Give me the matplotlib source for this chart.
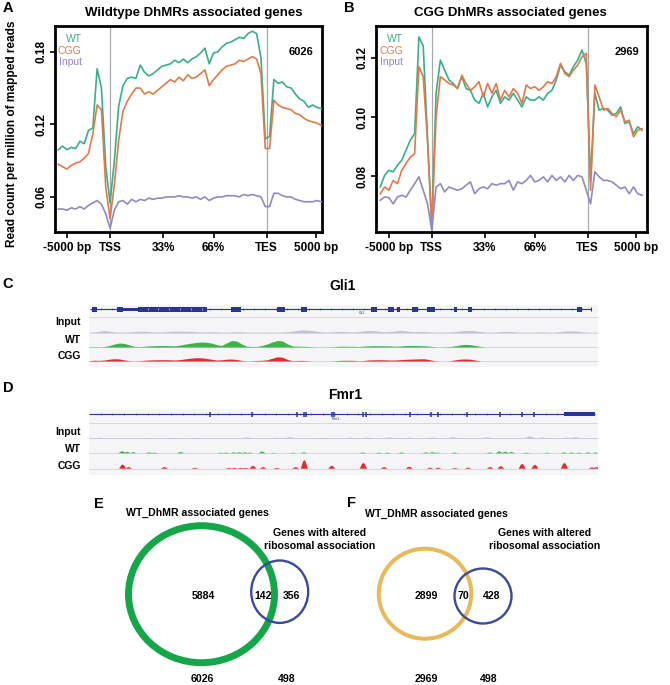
import numpy as np
import matplotlib
matplotlib.use('Agg')
import matplotlib.pyplot as plt
from matplotlib.patches import Ellipse, Rectangle

plt.rcParams['font.family'] = ['Liberation Sans', 'DejaVu Sans']

# ---------------- data ----------------
tick_labels = ['-5000 bp', 'TSS', '33%', '66%', 'TES', '5000 bp']

a_wt = [0.099, 0.102, 0.099, 0.101, 0.100, 0.106, 0.104, 0.115, 0.117, 0.166,
        0.150, 0.085, 0.055, 0.090, 0.135, 0.152, 0.158, 0.159, 0.158, 0.169,
        0.163, 0.160, 0.162, 0.165, 0.168, 0.169, 0.170, 0.173, 0.171, 0.174,
        0.171, 0.174, 0.176, 0.179, 0.183, 0.170, 0.179, 0.180, 0.184, 0.187,
        0.188, 0.190, 0.192, 0.191, 0.195, 0.197, 0.195, 0.175, 0.108, 0.110,
        0.157, 0.154, 0.155, 0.151, 0.150, 0.145, 0.141, 0.139, 0.134, 0.136,
        0.134, 0.133]
a_cgg = [0.087, 0.085, 0.083, 0.086, 0.088, 0.089, 0.092, 0.096, 0.112, 0.136,
         0.132, 0.068, 0.042, 0.070, 0.107, 0.131, 0.139, 0.145, 0.150, 0.150,
         0.145, 0.147, 0.145, 0.148, 0.151, 0.154, 0.157, 0.155, 0.159, 0.156,
         0.161, 0.158, 0.159, 0.162, 0.165, 0.152, 0.157, 0.161, 0.165, 0.168,
         0.169, 0.170, 0.173, 0.172, 0.174, 0.176, 0.174, 0.162, 0.100, 0.100,
         0.140, 0.136, 0.134, 0.133, 0.132, 0.129, 0.128, 0.125, 0.123, 0.122,
         0.121, 0.119]
a_input = [0.050, 0.050, 0.049, 0.051, 0.050, 0.052, 0.050, 0.053, 0.055, 0.057,
           0.054, 0.046, 0.034, 0.049, 0.056, 0.057, 0.054, 0.058, 0.056, 0.058,
           0.057, 0.059, 0.058, 0.059, 0.059, 0.060, 0.060, 0.060, 0.061, 0.060,
           0.060, 0.059, 0.060, 0.058, 0.060, 0.057, 0.059, 0.060, 0.060, 0.061,
           0.061, 0.061, 0.060, 0.062, 0.061, 0.062, 0.061, 0.060, 0.052, 0.052,
           0.063, 0.063, 0.061, 0.060, 0.060, 0.058, 0.057, 0.056, 0.056, 0.056,
           0.057, 0.056]

b_wt = [0.0764, 0.0803, 0.0820, 0.0815, 0.0837, 0.0854, 0.0888, 0.0922, 0.0944, 0.1270,
        0.1240, 0.0930, 0.0630, 0.1080, 0.1192, 0.1158, 0.1125, 0.1113, 0.1096, 0.1136,
        0.1096, 0.1090, 0.1057, 0.1046, 0.1080, 0.1034, 0.1068, 0.1090, 0.1046, 0.1068,
        0.1057, 0.1080, 0.1057, 0.1034, 0.1068, 0.1057, 0.1057, 0.1068, 0.1057, 0.1080,
        0.1090, 0.1125, 0.1175, 0.1153, 0.1141, 0.1170, 0.1192, 0.1226, 0.1180, 0.0786,
        0.1080, 0.1023, 0.1029, 0.1023, 0.1006, 0.1012, 0.1034, 0.0978, 0.0984, 0.0944,
        0.0967, 0.0955]
b_cgg = [0.0741, 0.0764, 0.0753, 0.0786, 0.0775, 0.0820, 0.0843, 0.0865, 0.0876, 0.1170,
         0.1136, 0.0922, 0.0625, 0.1000, 0.1136, 0.1125, 0.1113, 0.1108, 0.1096, 0.1141,
         0.1113, 0.1090, 0.1102, 0.1119, 0.1068, 0.1113, 0.1080, 0.1113, 0.1057, 0.1090,
         0.1068, 0.1096, 0.1080, 0.1046, 0.1108, 0.1096, 0.1102, 0.1090, 0.1102, 0.1119,
         0.1113, 0.1136, 0.1181, 0.1147, 0.1136, 0.1158, 0.1175, 0.1203, 0.1215, 0.0753,
         0.1108, 0.1068, 0.1023, 0.1029, 0.1012, 0.1001, 0.1023, 0.0984, 0.0989, 0.0933,
         0.0955, 0.0961]
b_input = [0.0719, 0.0730, 0.0728, 0.0707, 0.0730, 0.0736, 0.0730, 0.0753, 0.0775, 0.0798,
           0.0753, 0.0707, 0.0618, 0.0764, 0.0775, 0.0747, 0.0764, 0.0758, 0.0753, 0.0758,
           0.0770, 0.0781, 0.0741, 0.0758, 0.0764, 0.0758, 0.0775, 0.0770, 0.0775, 0.0775,
           0.0786, 0.0753, 0.0781, 0.0775, 0.0786, 0.0803, 0.0781, 0.0786, 0.0798, 0.0781,
           0.0803, 0.0786, 0.0798, 0.0781, 0.0803, 0.0786, 0.0803, 0.0798, 0.0753, 0.0707,
           0.0815, 0.0798, 0.0786, 0.0786, 0.0781, 0.0770, 0.0758, 0.0764, 0.0741, 0.0764,
           0.0741, 0.0736]

# Gli1 gene track (positions in % of the displayed region)
gli1_exon_start = [0.5, 5.5, 9.6, 27.9, 36.9, 41.7, 55.4, 58.7, 60.5, 63.5, 66.4, 71.7, 74.5, 95.9]
gli1_exon_end = [1.5, 6.7, 23.2, 29.9, 38.5, 42.8, 56.6, 59.9, 61.1, 64.6, 68.0, 72.3, 75.2, 96.9]
gli1_utr = [6.7, 9.6]
gli1_span = [0.2, 98.6]
gli1_input = [0.3, 0.5, 1.2, 2.0, 1.5, 0.6, 0.4, 0.4, 0.6, 1.0,
              1.3, 1.2, 0.8, 0.5, 0.5, 0.8, 1.2, 1.4, 1.3, 1.2,
              1.3, 0.9, 0.5, 0.6, 0.8, 0.6, 0.4, 0.4, 0.6, 0.8,
              0.6, 0.4, 0.3, 0.3, 0.4, 0.5, 0.4, 0.3, 0.5, 0.8,
              1.4, 2.2, 2.6, 2.4, 1.8, 1.0, 0.6, 0.5, 0.8, 1.0,
              1.0, 0.8, 0.6, 1.0, 1.6, 2.0, 1.8, 1.2, 0.8, 1.0,
              1.6, 2.0, 1.8, 1.2, 0.8, 1.0, 1.0, 0.7, 0.4, 0.4,
              0.5, 0.6, 1.0, 1.5, 2.0, 2.0, 1.6, 1.0, 0.5, 0.4,
              0.6, 1.0, 1.1, 1.0, 0.6, 0.3, 0.3, 0.3, 0.5, 0.6,
              0.5, 0.3, 0.6, 1.2, 1.6, 1.6, 1.2, 0.6, 0.3, 0.2,
              0.2]
gli1_wt = [0.3, 0.4, 0.2, 0.5, 1.5, 3.0, 4.0, 3.5, 2.0, 0.6,
           0.4, 0.8, 1.2, 1.4, 1.5, 1.5, 1.3, 1.2, 2.0, 3.0,
           3.8, 4.5, 5.0, 4.8, 4.0, 2.5, 1.5, 4.0, 6.5, 6.0,
           3.0, 0.8, 0.5, 0.6, 1.5, 3.0, 5.0, 6.5, 6.0, 3.0,
           1.0, 0.8, 0.7, 0.6, 0.2, 0.1, 0.1, 0.2, 0.3, 0.7,
           0.8, 0.7, 0.7, 0.5, 0.9, 1.2, 1.3, 1.3, 1.2, 1.2,
           0.8, 0.9, 1.4, 1.6, 1.5, 1.3, 1.2, 0.8, 0.3, 0.1,
           0.2, 0.5, 1.2, 2.2, 2.6, 2.3, 1.4, 0.6, 0.0, 0.0,
           0, 0, 0, 0, 0, 0, 0, 0, 0, 0,
           0, 0, 0, 0, 0, 0, 0, 0, 0, 0,
           0]
gli1_cgg = [0.2, 0.8, 0.6, 1.0, 1.8, 2.3, 2.0, 1.0, 0.2, 0.1,
            0.2, 0.8, 1.1, 1.2, 1.3, 1.3, 1.2, 1.0, 1.5, 2.2,
            2.8, 3.3, 3.2, 2.6, 1.8, 1.0, 1.2, 1.8, 2.0, 1.5,
            0.6, 0.1, 0.2, 0.6, 0.7, 1.2, 2.8, 4.2, 3.8, 1.5,
            0.3, 0.6, 0.6, 0.2, 0.0, 0.0, 0.0, 0.0, 0.1, 0.5,
            0.7, 0.7, 0.6, 0.2, 0.5, 1.1, 1.2, 1.3, 1.2, 1.0,
            1.0, 1.3, 1.6, 1.8, 2.0, 2.2, 2.2, 1.2, 0.2, 0.0,
            0.0, 0.2, 1.2, 1.9, 2.0, 1.8, 0.8, 0.0, 0.0, 0.0,
            0, 0, 0, 0, 0, 0, 0, 0, 0, 0,
            0, 0, 0, 0, 0, 0, 0, 0, 0, 0,
            0]

# Fmr1 gene track
fmr1_exons = [23.8, 32.0, 40.9, 42.2, 42.6, 47.7, 48.1, 53.8, 54.4, 63.1,
              67.2, 68.6, 74.3, 80.7, 85.1, 87.4]
fmr1_utr = [93.3, 99.4]
fmr1_span = [0.0, 99.4]
fmr1_input_pos = [2.2, 11.4, 16.5, 21.2, 31.0, 36.9, 39.5, 45.8, 51.3, 54.8,
                  59.1, 63.0, 67.4, 71.5, 78.2, 86.6, 89.0, 94.1, 95.5]
fmr1_input_h = [0.5, 0.3, 0.4, 0.4, 0.7, 0.5, 1.0, 0.4, 0.5, 0.5,
                0.8, 0.5, 0.5, 1.0, 0.8, 1.8, 0.6, 0.5, 1.0]
fmr1_wt_pos = [6.5, 7.5, 8.7, 11.8, 12.9, 18.0, 25.8, 27.0, 28.4, 29.5,
               30.6, 31.6, 34.0, 36.2, 40.1, 42.2, 53.8, 57.0, 58.6, 61.4,
               66.2, 67.5, 68.5, 71.8, 78.8, 80.6, 81.8, 83.0, 85.9, 90.0,
               93.3, 94.8, 96.3, 98.0, 99.5]
fmr1_wt_h = [2.0, 1.5, 1.0, 0.8, 0.6, 1.2, 0.5, 0.6, 0.8, 0.9,
             0.8, 0.6, 1.8, 0.4, 0.5, 0.8, 0.7, 0.6, 0.6, 0.7,
             0.8, 1.0, 0.6, 0.6, 0.8, 1.8, 1.6, 1.2, 0.5, 0.5,
             0.7, 0.6, 0.6, 0.7, 0.7]
fmr1_cgg_pos = [6.6, 7.8, 14.8, 20.8, 27.5, 28.6, 29.8, 30.8, 32.2, 34.2,
                36.9, 40.6, 42.3, 47.7, 53.9, 58.0, 62.9, 67.0, 68.6, 71.9,
                74.5, 78.8, 80.9, 85.1, 87.6, 93.4, 98.8, 99.7]
fmr1_cgg_h = [4.3, 1.5, 1.5, 0.8, 0.8, 0.8, 0.8, 0.8, 2.8, 1.5,
              0.8, 1.5, 9.0, 3.0, 6.0, 1.5, 2.0, 1.0, 1.0, 0.7,
              1.0, 1.5, 2.5, 5.0, 4.0, 6.0, 1.2, 1.5]

# Venn numbers
e_regions = [5884, 142, 356]
e_totals = [6026, 498]
f_regions = [2899, 70, 428]
f_totals = [2969, 498]

# ---------------- styling ----------------
C_WT = '#3aad8a'
C_CGG = '#e07a4c'
C_INP = '#9089c6'
GENE = '#2b3590'
COV_INP = '#c2c2da'
COV_WT = '#3cb44a'
COV_CGG = '#e52a2e'

W, H = 670, 685
fig = plt.figure(figsize=(W / 100, H / 100), dpi=100)


def px_axes(x0, y0, x1, y1):
    return fig.add_axes([x0 / W, 1 - y1 / H, (x1 - x0) / W, (y1 - y0) / H])


def ftext(x, y, s, **kw):
    fig.text(x / W, 1 - y / H, s, **kw)


TICK_POS = [2.0, 12.0, 24.3, 36.0, 48.3, 59.7]
TSS, TES = 12.0, 48.3


def profile(box, wt, cgg, inp, xlim, ylim, yticks, count, count_x, leg_x):
    ax = px_axes(*box)
    x = np.arange(len(wt))
    ax.axvline(TSS, color='#a8a8a8', lw=0.9, zorder=1)
    ax.axvline(TES, color='#a8a8a8', lw=0.9, zorder=1)
    ax.plot(x, wt, color=C_WT, lw=1.2, zorder=3)
    ax.plot(x, cgg, color=C_CGG, lw=1.2, zorder=3)
    ax.plot(x, inp, color=C_INP, lw=1.2, zorder=3)
    ax.set_xlim(*xlim)
    ax.set_ylim(*ylim)
    ax.set_xticks(TICK_POS, tick_labels)
    ax.set_yticks(yticks, ['%.2f' % v for v in yticks])
    ax.tick_params(axis='x', length=4.5, width=1.2, pad=3, labelsize=8.5)
    ax.tick_params(axis='y', length=3.8, width=1.2, pad=1.5, labelsize=8.5,
                   labelrotation=90)
    for lab in ax.get_yticklabels() + ax.get_xticklabels():
        lab.set_fontweight('bold')
    for lab in ax.get_yticklabels():
        lab.set_va('center')
    for s in ax.spines.values():
        s.set_linewidth(2.0)
    ftext(leg_x, 39, 'WT', color=C_WT, ha='right', va='center', fontsize=7.5)
    ftext(leg_x, 51, 'CGG', color=C_CGG, ha='right', va='center', fontsize=7.5)
    ftext(leg_x, 62, 'Input', color=C_INP, ha='right', va='center', fontsize=7.5)
    ftext(count_x, 52, count, ha='center', va='center', fontsize=8, fontweight='bold')
    return ax


axA = profile((55, 26, 322, 232), a_wt, a_cgg, a_input, (-0.77, 61.16),
              (0.031, 0.2013), [0.06, 0.12, 0.18], '6026', 301, 81.5)
axA.set_ylabel('Read count per million of mapped reads', fontsize=8.6,
               fontweight='bold')
axA.yaxis.set_label_coords(-0.14, 0.476)
axB = profile((376, 26, 647, 232), b_wt, b_cgg, b_input, (-1.0, 62.15),
              (0.0612, 0.1307), [0.08, 0.10, 0.12], '2969', 627, 403)

ftext(194, 13, 'Wildtype DhMRs associated genes', ha='center', va='center',
      fontsize=9.5, fontweight='bold')
ftext(510, 13, 'CGG DhMRs associated genes', ha='center', va='center',
      fontsize=9.5, fontweight='bold')

# panel letters
for lx, ly, letter in [(7.5, 7.5, 'A'), (349, 7.5, 'B'), (8, 284, 'C'),
                       (8, 388, 'D'), (99, 504, 'E'), (352, 503, 'F')]:
    ftext(lx, ly, letter, ha='center', va='center', fontsize=10.5, fontweight='bold')

u = np.arange(101)


def intron_ticks(ax, y, x0, x1, step=2.3, color=GENE):
    t = np.arange(x0 + step, x1 - 0.5, step)
    ax.plot(t, [y] * len(t), '|', color=color, ms=1.5, mew=0.4, zorder=4)


# ---------------- panel C ----------------
axC = px_axes(89, 303, 598, 368)
axC.set_xlim(0, 100)
axC.set_ylim(368, 303)
axC.axis('off')
axC.add_patch(Rectangle((0, 305), 100, 62, color='#f5f5f7', lw=0, zorder=0))
axC.hlines([317, 332.5, 347, 361], 0, 100, color='#d2d2d8', lw=0.6, zorder=1)
axC.hlines(309.3, gli1_span[0], gli1_span[1], color=GENE, lw=0.8, zorder=2)
intron_ticks(axC, 309.3, gli1_span[0], gli1_span[1], step=2.15)
axC.add_patch(Rectangle((gli1_utr[0], 307.9), gli1_utr[1] - gli1_utr[0], 2.8,
                        color=GENE, lw=0, zorder=3))
for s, e in zip(gli1_exon_start, gli1_exon_end):
    axC.add_patch(Rectangle((s, 306.6), e - s, 5.6, color=GENE, lw=0, zorder=3))
big = np.arange(11.5, 23.0, 2.15)
axC.plot(big, [309.3] * len(big), '|', color='white', ms=1.6, mew=0.4, zorder=5)
axC.plot(gli1_span[1], 309.3, '|', color=GENE, ms=3, mew=0.8, zorder=4)
axC.text(53.6, 313.2, 'Gli1', fontsize=2.5, color=GENE, ha='center', va='center')
for base, vals, col in [(332.5, gli1_input, COV_INP), (347, gli1_wt, COV_WT),
                        (361, gli1_cgg, COV_CGG)]:
    v = np.array(vals, dtype=float)
    axC.fill_between(u, base, base - v, color=col, lw=0, zorder=3)
ftext(343, 286, 'Gli1', ha='center', va='center', fontsize=10, fontweight='bold')
for yy, name in [(322, 'Input'), (340, 'WT'), (356, 'CGG')]:
    ftext(81, yy, name, ha='right', va='center', fontsize=7.5, fontweight='bold')

# ---------------- panel D ----------------
axD = px_axes(89, 406, 598, 477)
axD.set_xlim(0, 100)
axD.set_ylim(477, 406)
axD.axis('off')
axD.add_patch(Rectangle((0, 409), 100, 66, color='#f5f5f7', lw=0, zorder=0))
axD.hlines([422.7, 438.3, 453.3, 468.7], 0, 100, color='#d2d2d8', lw=0.6, zorder=1)
axD.hlines(414.3, fmr1_span[0], fmr1_span[1], color=GENE, lw=0.8, zorder=2)
intron_ticks(axD, 414.3, fmr1_span[0], fmr1_span[1], step=2.3)
axD.vlines(fmr1_exons, 411.5, 417.2, color=GENE, lw=1.1, zorder=3)
axD.add_patch(Rectangle((fmr1_utr[0], 412.3), fmr1_utr[1] - fmr1_utr[0], 4.0,
                        color=GENE, lw=0, zorder=3))
axD.text(48.5, 419.3, 'Fmr1', fontsize=2.5, color=GENE, ha='center', va='center')


def peaks(ax, base, pos, hts, col, hw):
    for p, h in zip(pos, hts):
        ax.fill([p - hw, p - hw * 0.3, p + hw * 0.3, p + hw],
                [base, base - h * 0.85, base - h * 0.85, base],
                color=col, lw=0, zorder=3)
        ax.fill([p - hw * 0.5, p, p + hw * 0.5], [base - h * 0.5, base - h, base - h * 0.5],
                color=col, lw=0, zorder=3)


axD.hlines(438.3, 0, 100, color='#c8c8dc', lw=0.6, zorder=2)
peaks(axD, 438.3, fmr1_input_pos, fmr1_input_h, COV_INP, 1.0)
peaks(axD, 453.3, fmr1_wt_pos, fmr1_wt_h, COV_WT, 0.7)
peaks(axD, 468.7, fmr1_cgg_pos, fmr1_cgg_h, COV_CGG, 0.7)
ftext(345, 395, 'Fmr1', ha='center', va='center', fontsize=10, fontweight='bold')
for yy, name in [(432, 'Input'), (449, 'WT'), (466, 'CGG')]:
    ftext(81, yy, name, ha='right', va='center', fontsize=7.5, fontweight='bold')

# ---------------- panels E / F (Venn) ----------------
ov = fig.add_axes([0, 0, 1, 1])
ov.set_xlim(0, W)
ov.set_ylim(H, 0)
ov.axis('off')
ov.set_zorder(-1)

ov.add_patch(Ellipse((201.5, 594.2), 146, 137, fill=False, ec='#16a64a', lw=5.0))
ov.add_patch(Ellipse((279.7, 591.7), 57, 62.4, fill=False, ec='#3a4a9e', lw=1.7))
ov.add_patch(Ellipse((425.0, 593.7), 92.5, 90, fill=False, ec='#e8b95a', lw=2.9))
ov.add_patch(Ellipse((483.0, 596.0), 57, 55, fill=False, ec='#3a4a9e', lw=1.7))

vk = dict(ha='center', va='center', fontsize=7.6, fontweight='bold')
ftext(197, 513, 'WT_DhMR associated genes', **vk)
ftext(320, 533, 'Genes with altered', **vk)
ftext(320, 546, 'ribosomal association', **vk)
ftext(436.5, 514, 'WT_DhMR associated genes', **vk)
ftext(545, 533, 'Genes with altered', **vk)
ftext(545, 546, 'ribosomal association', **vk)

nk = dict(ha='center', va='center', fontsize=7.6, fontweight='bold')
for (xx, val) in zip([203, 263, 291], e_regions):
    ftext(xx, 596, str(val), **nk)
for (xx, val) in zip([202, 287], e_totals):
    ftext(xx, 679, str(val), **nk)
for (xx, val) in zip([426, 463, 492], f_regions):
    ftext(xx, 596, str(val), **nk)
for (xx, val) in zip([426, 489], f_totals):
    ftext(xx, 679, str(val), **nk)

fig.savefig('out.png', dpi=100)
